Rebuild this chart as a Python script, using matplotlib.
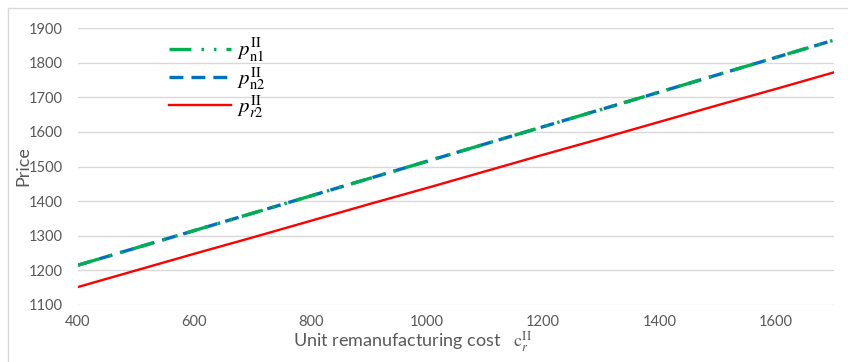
import matplotlib.pyplot as plt
from matplotlib.lines import Line2D

plt.rcParams['mathtext.fontset'] = 'stix'
plt.rcParams['lines.scale_dashes'] = False

# Unit remanufacturing cost c_r
cost = [400, 500, 600, 700, 800, 900, 1000, 1100, 1200, 1300, 1400, 1500, 1600, 1700]
# Prices of new products (period II) and remanufactured products
p_n1 = [1215, 1265, 1315, 1365, 1415, 1465, 1515, 1565, 1615, 1665, 1715, 1765, 1815, 1865]
p_n2 = [1215, 1265, 1315, 1365, 1415, 1465, 1515, 1565, 1615, 1665, 1715, 1765, 1815, 1865]
p_r2 = [1152, 1200, 1248, 1295, 1343, 1391, 1438, 1486, 1534, 1581, 1629, 1677, 1724, 1772]

x_ticks = [400, 600, 800, 1000, 1200, 1400, 1600]
y_ticks = [1100, 1200, 1300, 1400, 1500, 1600, 1700, 1800, 1900]

W, H = 848, 362
fig = plt.figure(figsize=(W / 100, H / 100), dpi=100)

# chart-area border (top and left edges)
fig.add_artist(Line2D([8 / W, 1], [1 - 8 / H, 1 - 8 / H], color='#D9D9D9', lw=1,
                      transform=fig.transFigure))
fig.add_artist(Line2D([8 / W, 8 / W], [0, 1 - 8 / H], color='#D9D9D9', lw=1,
                      transform=fig.transFigure))

left, right = 78 / W, 834 / W
top, bottom = 1 - 28 / H, 1 - 305 / H
ax = fig.add_axes([left, bottom, right - left, top - bottom])

ax.plot(cost, p_n2, color='#0070C0', lw=2.4, dashes=(10, 5.8),
        dash_capstyle='butt', label=r'$p_{\mathrm{n2}}^{\mathrm{II}}$', zorder=3)
ax.plot(cost, p_n1, color='#00B050', lw=2.4, dashes=(15.8, 7.2, 1.8, 7.2, 1.8, 7.2),
        dash_capstyle='butt', label=r'$p_{\mathrm{n1}}^{\mathrm{II}}$', zorder=4)
ax.plot(cost, p_r2, color='#FF0000', lw=1.7, label=r'$p_{r2}^{\mathrm{II}}$', zorder=5)

ax.set_xlim(400, 1700)
ax.set_ylim(1100, 1900)
ax.set_xticks(x_ticks)
ax.set_yticks(y_ticks)
ax.grid(axis='y', color='#D9D9D9', lw=1)
ax.set_axisbelow(True)
for s in ax.spines.values():
    s.set_visible(False)
ax.tick_params(axis='y', length=0, labelsize=10.5, labelcolor='#595959', pad=11)
ax.tick_params(axis='x', length=0, labelsize=10.5, labelcolor='#595959', pad=7)
for lab in ax.get_xticklabels() + ax.get_yticklabels():
    lab.set_family('Lato')

ax.set_ylabel('Price', fontsize=13, color='#595959', family='Lato')
ax.yaxis.set_label_coords(-0.062, 0.5)
fig.text(293 / W, 1 - 347 / H, r'Unit remanufacturing cost   $\mathrm{c}_r^{\mathrm{II}}$',
         fontsize=13, color='#595959', family='Lato', ha='left', va='baseline')

handles, labels = ax.get_legend_handles_labels()
order = [1, 0, 2]
leg = ax.legend([handles[i] for i in order], [labels[i] for i in order],
                loc='upper left', bbox_to_anchor=(0.095, 1.035), frameon=False,
                fontsize=15, handlelength=3.0, labelspacing=0.05, handletextpad=0.3)

fig.savefig('out.png', dpi=100)
